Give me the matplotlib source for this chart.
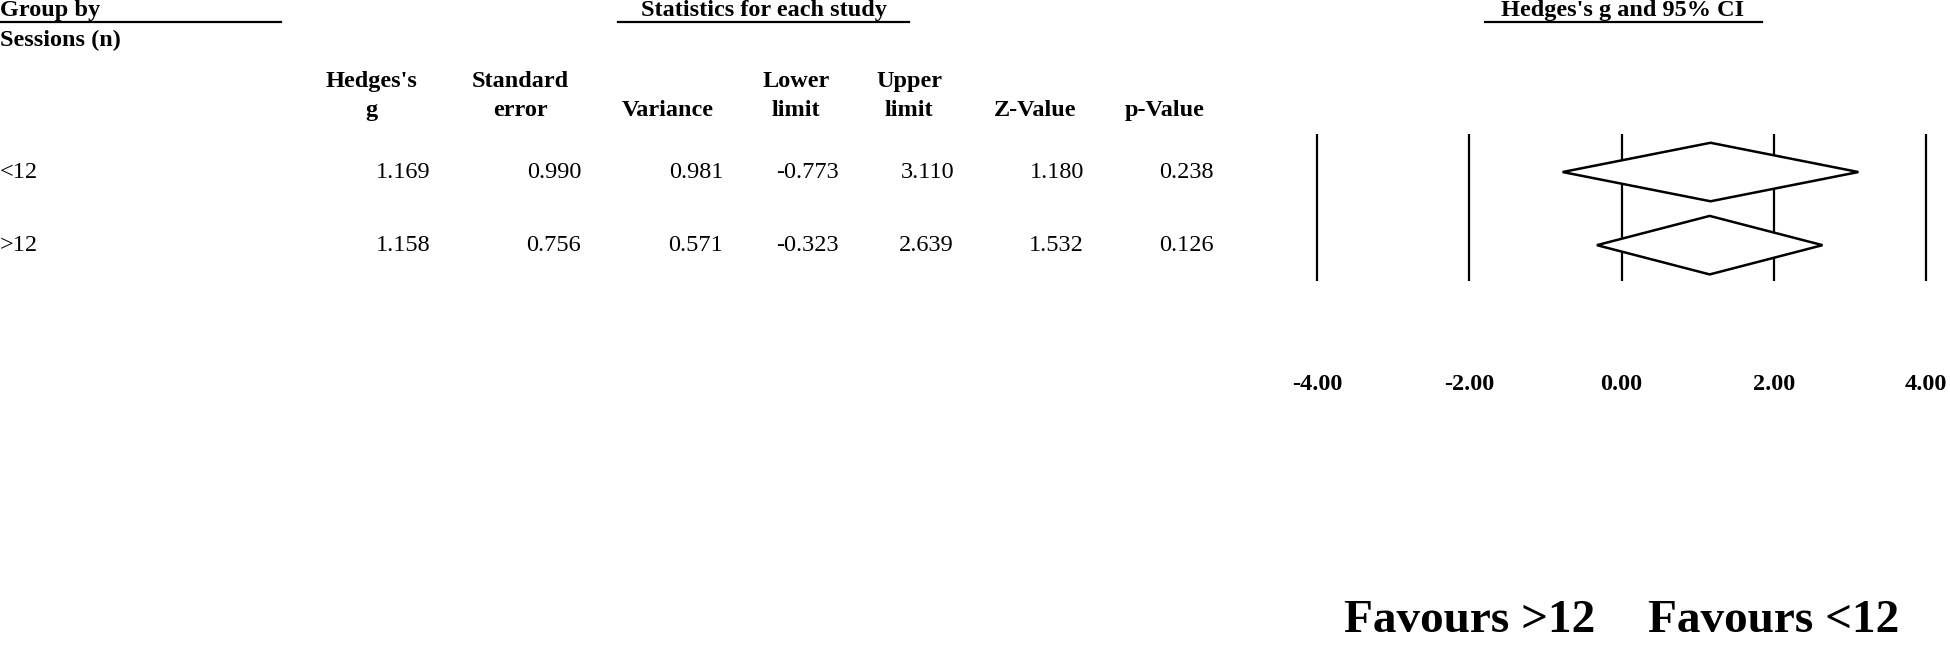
import matplotlib
matplotlib.use('Agg')
import matplotlib.pyplot as plt
import matplotlib.transforms as mtransforms
from matplotlib.lines import Line2D

groups = ['<12', '>12']
hedges_g = [1.169, 1.158]
std_err = [0.990, 0.756]
variance = [0.981, 0.571]
lower = [-0.773, -0.323]
upper = [3.110, 2.639]
z_value = [1.180, 1.532]
p_value = [0.238, 0.126]

col_heads = [("Hedges's", "g"), ("Standard", "error"), ("", "Variance"),
             ("Lower", "limit"), ("Upper", "limit"), ("", "Z-Value"), ("", "p-Value")]
x_ticks = [-4, -2, 0, 2, 4]
favours = ['Favours >12', 'Favours <12']

W, H = 1950, 645
plt.rcParams['font.family'] = ['Liberation Serif', 'DejaVu Serif']


def fx(px):
    return px / W


def fy(py):
    return 1 - py / H


fig = plt.figure(figsize=(W / 100, H / 100), dpi=100)

# forest panel
ax = fig.add_axes([fx(1294), fy(281), fx(1949) - fx(1294), (281 - 134) / H])
ax.set_xlim(-4.3, 4.3)
ax.set_ylim(1.49, -0.52)
for t in x_ticks:
    ax.axvline(t, color='black', lw=1.6)
for i in range(len(groups)):
    xs = [lower[i], hedges_g[i], upper[i], hedges_g[i], lower[i]]
    ys = [i, i - 0.4, i, i + 0.4, i]
    ax.fill(xs, ys, facecolor='white', edgecolor='black', lw=1.8, zorder=3)
for s in ax.spines.values():
    s.set_visible(False)
ax.set_yticks([])
ax.set_xticks(x_ticks)
ax.set_xticklabels(['%.2f' % t for t in x_ticks], fontsize=17.5, fontweight='bold')
ax.tick_params(axis='x', length=0, pad=67)

# favours labels
tr_fav = mtransforms.blended_transform_factory(ax.transData, fig.transFigure)
ax.text(-2, fy(632), favours[0], transform=tr_fav, ha='center', va='baseline',
        fontsize=34, fontweight='bold')
ax.text(2, fy(632), favours[1], transform=tr_fav, ha='center', va='baseline',
        fontsize=34, fontweight='bold')

# header
fig.text(0, fy(0), 'Group by', ha='left', va='top', fontsize=17.5, fontweight='bold')
fig.text(0, fy(30), 'Sessions (n)', ha='left', va='top', fontsize=17.5, fontweight='bold')
fig.text(fx(764), fy(0), 'Statistics for each study', ha='center', va='top',
         fontsize=17.5, fontweight='bold')
fig.text(fx(1623), fy(0), "Hedges's g and 95% CI", ha='center', va='top',
         fontsize=17.5, fontweight='bold')
for x0, x1 in [(0, 281), (618, 909), (1485, 1762)]:
    fig.add_artist(Line2D([fx(x0), fx(x1)], [fy(22), fy(22)], color='black', lw=1.6,
                          transform=fig.transFigure))

head_x = [371, 520, 668, 796, 909, 1035, 1165]
val_x = [430, 581, 723, 839, 954, 1084, 1214]
for hx, (l1, l2) in zip(head_x, col_heads):
    if l1:
        fig.text(fx(hx), fy(87), l1, ha='center', va='baseline', fontsize=17.5, fontweight='bold')
    fig.text(fx(hx), fy(116), l2, ha='center', va='baseline', fontsize=17.5, fontweight='bold')

# rows
tr_row = mtransforms.blended_transform_factory(fig.transFigure, ax.transData)
cols = [hedges_g, std_err, variance, lower, upper, z_value, p_value]
for i, g in enumerate(groups):
    fig.text(0, i, g, transform=tr_row, ha='left', va='center', fontsize=17.5)
    for vx, col in zip(val_x, cols):
        fig.text(fx(vx), i, '%.3f' % col[i], transform=tr_row, ha='right', va='center',
                 fontsize=17.5)

fig.savefig('out.png', dpi=100)
